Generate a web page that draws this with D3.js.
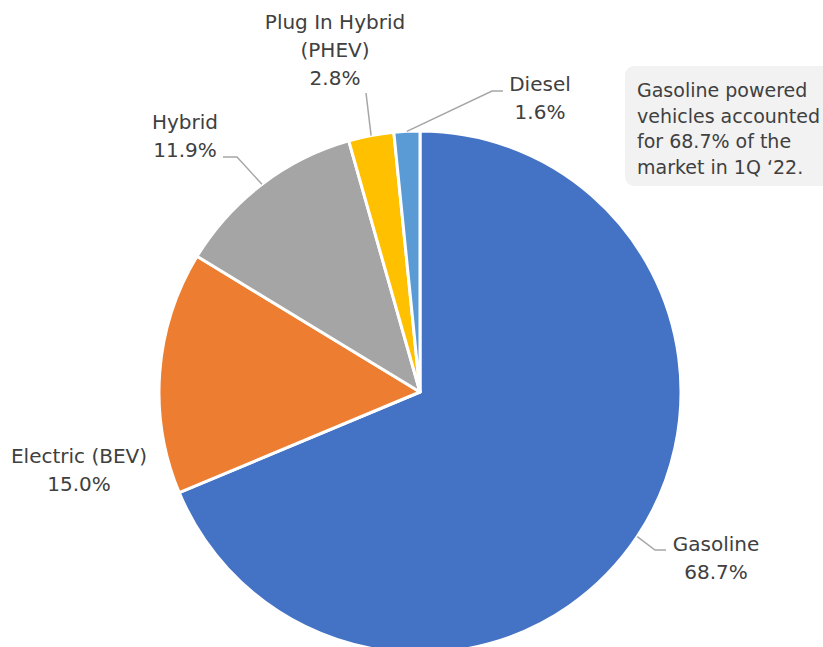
<!DOCTYPE html>
<html>
<head>
<meta charset="utf-8">
<script src="https://cdn.jsdelivr.net/npm/d3@7"></script>
<style>
  body { margin: 0; background: #fff; }
  text { font-family: "DejaVu Sans", sans-serif; fill: #404040; }
</style>
</head>
<body>
<script>
// data
var categories = ["Gasoline", "Electric (BEV)", "Hybrid", "Plug In Hybrid (PHEV)", "Diesel"];
var shares = [68.7, 15.0, 11.9, 2.8, 1.6];
var colors = ["#4472C4", "#ED7D31", "#A5A5A5", "#FFC000", "#5B9BD5"];
var labelLines = [["Gasoline"], ["Electric (BEV)"], ["Hybrid"], ["Plug In Hybrid", "(PHEV)"], ["Diesel"]];
var note = ["Gasoline powered", "vehicles accounted", "for 68.7% of the", "market in 1Q \u201822."];

// layout for labels: text centre x, first baseline y, leader elbow/end (null = no leader)
var labelLayout = [
  {x: 716, y: 551, leader: [[655, 550], [666, 550]]},
  {x: 79, y: 463, leader: null},
  {x: 185, y: 129, leader: [[237, 157], [223, 157]]},
  {x: 335, y: 29, leader: [[366, 93]]},
  {x: 540, y: 91, leader: [[492, 91], [503, 91]]}
];

var width = 823, height = 647,
    cx = 420, cy = 392, radius = 261;

var svg = d3.select("body").append("svg")
    .attr("width", width)
    .attr("height", height);

var pie = d3.pie().sort(null).value(function(d) { return d; });
var arc = d3.arc().innerRadius(0).outerRadius(radius);
var arcs = pie(shares);

var g = svg.append("g")
    .attr("transform", "translate(" + cx + "," + cy + ")");

g.selectAll("path")
    .data(arcs)
  .enter().append("path")
    .attr("d", arc)
    .attr("fill", function(d, i) { return colors[i]; })
    .attr("stroke", "#fff")
    .attr("stroke-width", 3)
    .attr("stroke-linejoin", "round");

// leader lines
arcs.forEach(function(d, i) {
  var lay = labelLayout[i];
  if (!lay.leader) return;
  var mid = (d.startAngle + d.endAngle) / 2;
  var start = [cx + radius * Math.sin(mid), cy - radius * Math.cos(mid)];
  var pts = [start].concat(lay.leader);
  svg.append("path")
      .attr("d", d3.line()(pts))
      .attr("fill", "none")
      .attr("stroke", "#A6A6A6")
      .attr("stroke-width", 1.5);
});

// labels
arcs.forEach(function(d, i) {
  var lay = labelLayout[i];
  var lines = labelLines[i].concat([d3.format(".1f")(shares[i]) + "%"]);
  var t = svg.append("text")
      .attr("text-anchor", "middle")
      .attr("font-size", 20);
  lines.forEach(function(l, j) {
    t.append("tspan")
        .attr("x", lay.x)
        .attr("y", lay.y + j * 28)
        .text(l);
  });
});

// annotation box
svg.append("rect")
    .attr("x", 625)
    .attr("y", 66)
    .attr("width", 220)
    .attr("height", 120)
    .attr("rx", 9)
    .attr("fill", "#F2F2F2");

var nt = svg.append("text")
    .attr("font-size", 19);
note.forEach(function(l, j) {
  nt.append("tspan")
      .attr("x", 637)
      .attr("y", 97 + j * 25.5)
      .text(l);
});
</script>
</body>
</html>
